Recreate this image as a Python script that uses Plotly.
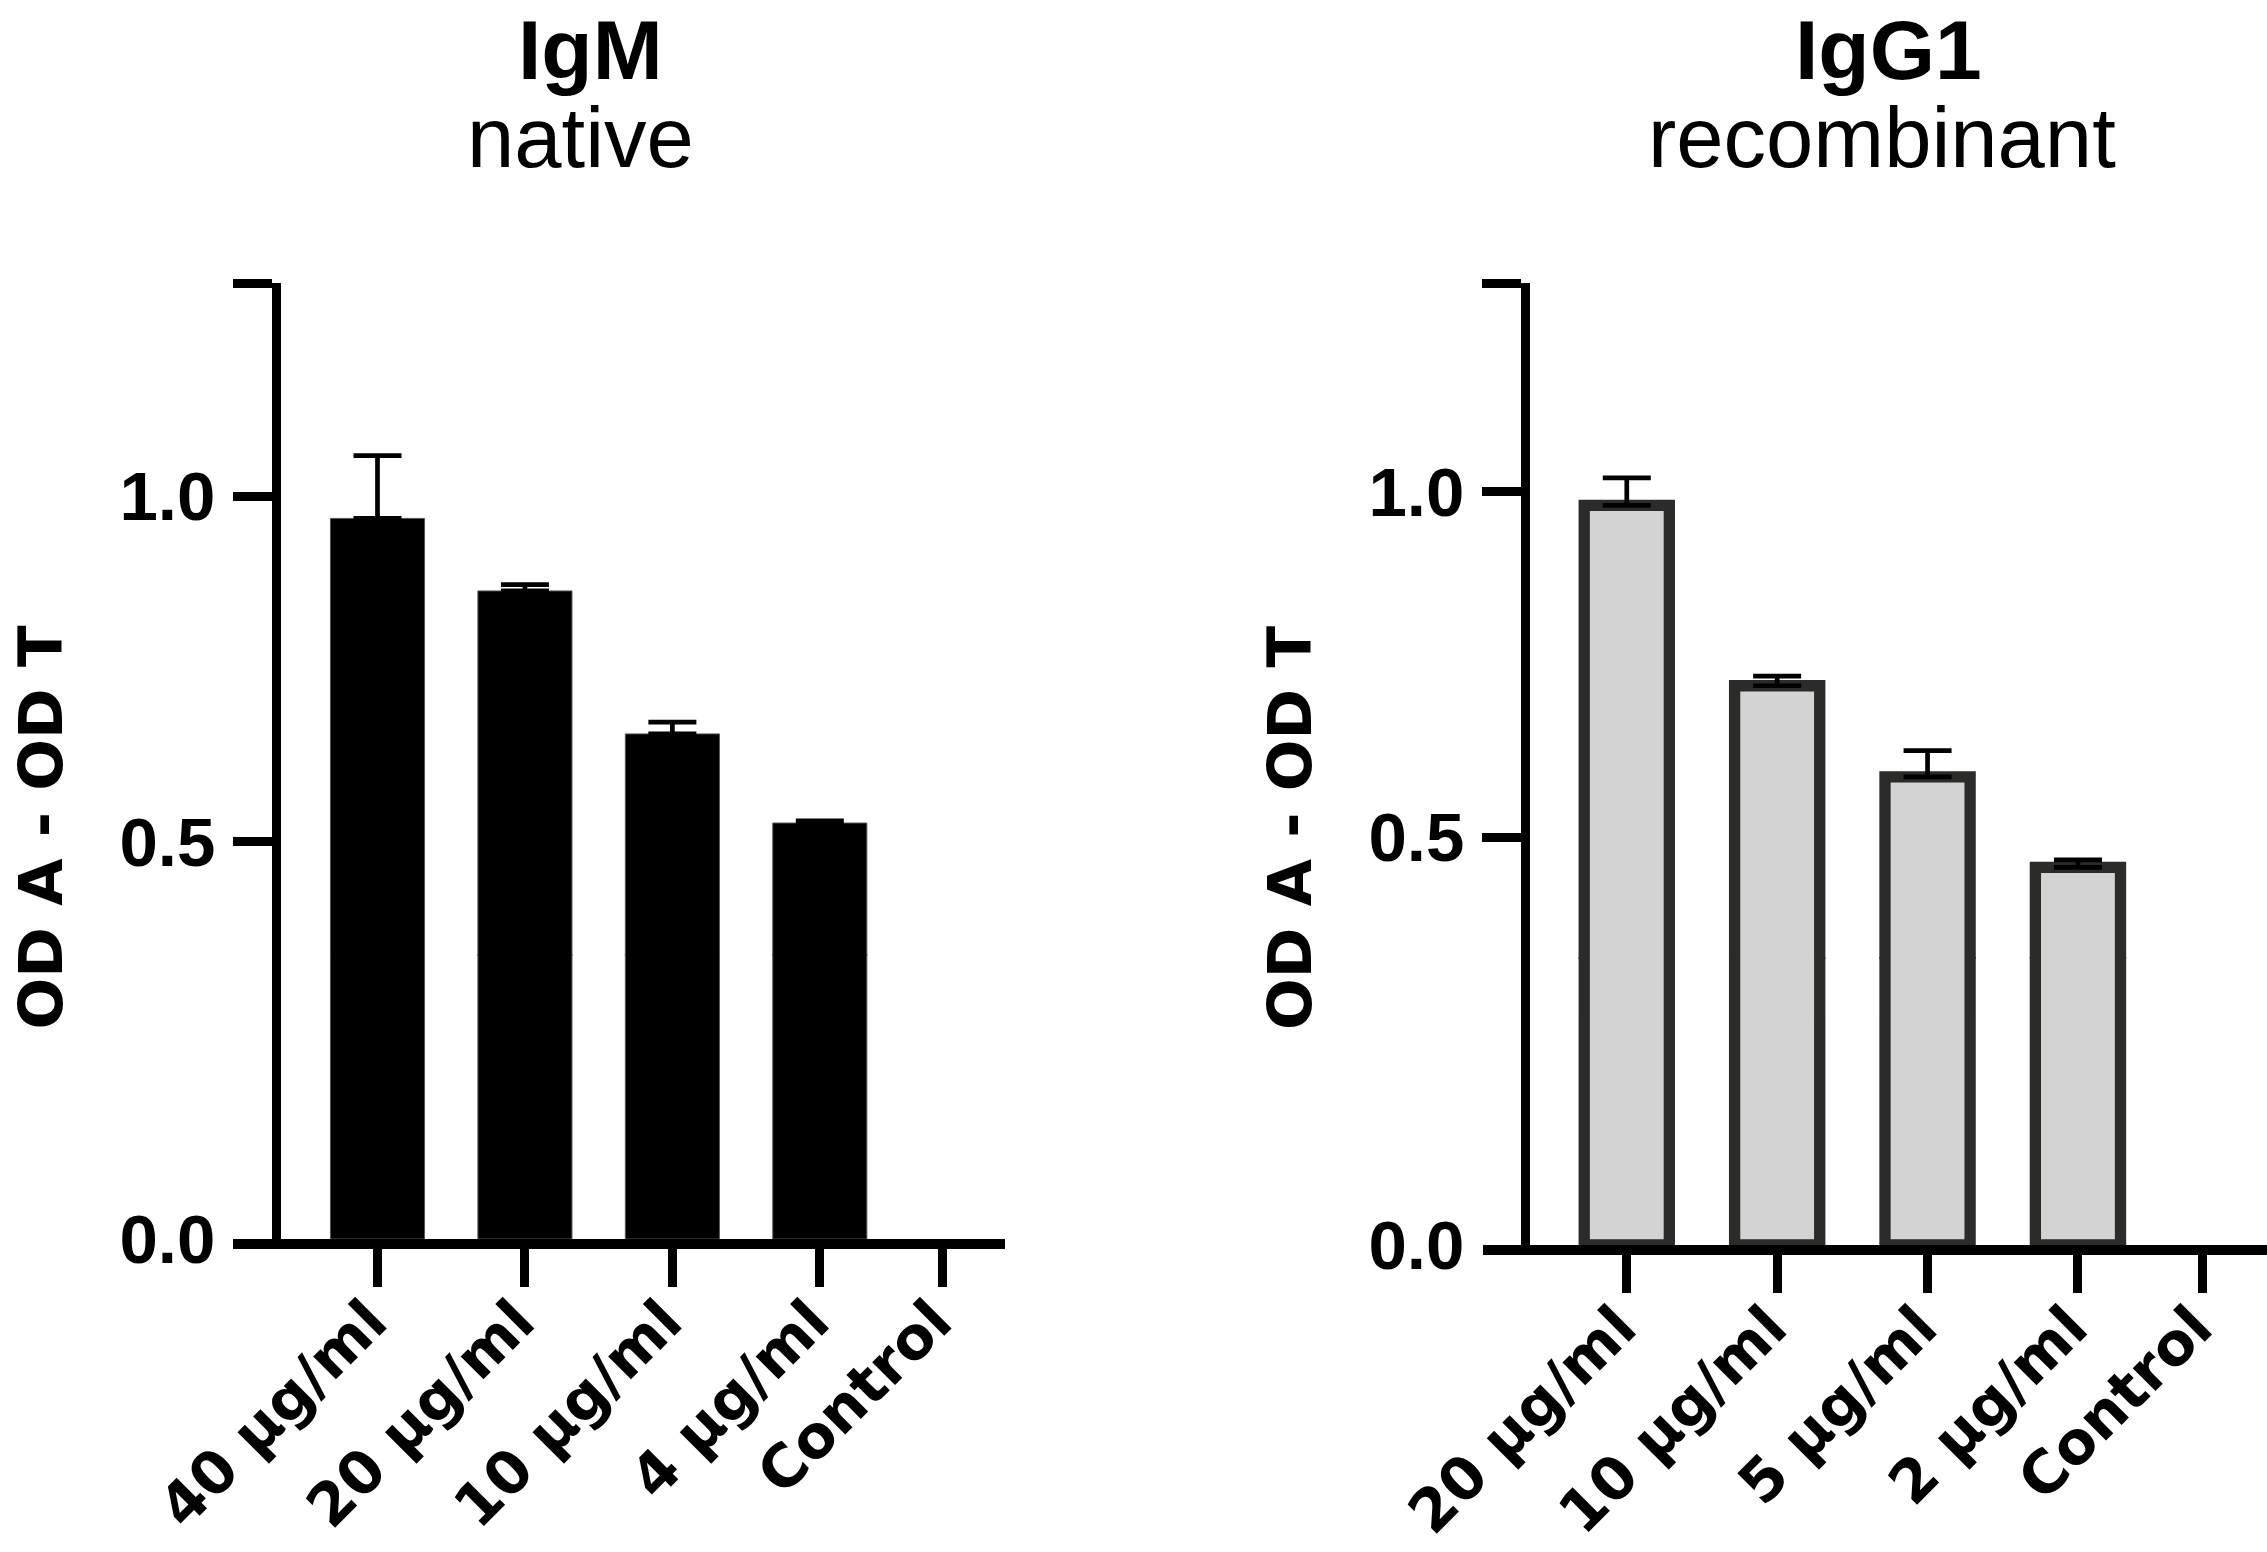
import plotly.graph_objects as go

# ---------------- data ----------------
categories_igm = ["40 µg/ml", "20 µg/ml", "10 µg/ml", "4 µg/ml", "Control"]
values_igm = [0.968, 0.863, 0.656, 0.527, None]
errors_igm = [0.091, 0.009, 0.017, 0.003, None]

categories_igg1 = ["20 µg/ml", "10 µg/ml", "5 µg/ml", "2 µg/ml", "Control"]
values_igg1 = [0.980, 0.719, 0.587, 0.456, None]
errors_igg1 = [0.040, 0.014, 0.038, 0.011, None]

y_ticks_upper = [0.5, 1.0]
y_tick_labels_upper = ["0.5", "1.0"]
y_ticks_lower = [0.0]
y_tick_labels_lower = ["0.0"]

titles = ["IgM", "IgG1"]
subtitles = ["native", "recombinant"]
y_title = "OD A - OD T"

# ---------------- layout constants ----------------
W, H = 2267, 1552
FONT = "Liberation Sans"
LABEL_FONT = "DejaVu Sans"
slot_positions = [0, 1, 2, 3, 3.83]   # category slots on the x axis (Control slot is narrower)


def px(x):
    return x / W


def py(y):
    return 1 - y / H


panels = [
    dict(xa="x", ya_low="y", ya_up="y2",
         x_dom=(233, 1005), x_range=(-0.980, 4.256),
         y_line=276.3, y_bottom=1239, y_break=956, y_top=283,
         break_val=0.3345, top_val=1.3088,
         cats=categories_igm, vals=values_igm, errs=errors_igm,
         fill="#000000", edge="#555555", edge_w=1, bar_w=0.638,
         title_x=590, sub_x=580, ytitle_x=2, ytitle_anchor="left"),
    dict(xa="x2", ya_low="y3", ya_up="y4",
         x_dom=(1482.7, 2267), x_range=(-0.958, 4.257),
         y_line=1525.3, y_bottom=1245, y_break=959, y_top=283,
         break_val=0.3235, top_val=1.302,
         cats=categories_igg1, vals=values_igg1, errs=errors_igg1,
         fill="#d3d3d3", edge="#2b2b29", edge_w=11.3, bar_w=0.566,
         title_x=1888, sub_x=1881.5, ytitle_x=1289, ytitle_anchor="center"),
]

fig = go.Figure()
layout = dict(
    width=W, height=H, autosize=False,
    margin=dict(l=0, r=0, t=0, b=0, pad=0),
    paper_bgcolor="white", plot_bgcolor="rgba(0,0,0,0)",
    showlegend=False, hovermode=False, barmode="overlay",
    font=dict(family=FONT, color="black"),
)
annotations = []

for i, p in enumerate(panels):
    xs = slot_positions
    for ya, with_err in ((p["ya_low"], False), (p["ya_up"], True)):
        fig.add_trace(go.Bar(
            x=xs, y=p["vals"], width=p["bar_w"],
            xaxis=p["xa"], yaxis=ya,
            marker=dict(color=p["fill"], line=dict(color=p["edge"], width=p["edge_w"])),
            error_y=dict(type="data", symmetric=False, array=p["errs"],
                         arrayminus=[0 if e is not None else None for e in p["errs"]],
                         color="black", thickness=4.7, width=24, visible=with_err),
            hoverinfo="skip",
        ))

    xkey = "xaxis" if p["xa"] == "x" else "xaxis" + p["xa"][1:]
    lowkey = "yaxis" if p["ya_low"] == "y" else "yaxis" + p["ya_low"][1:]
    upkey = "yaxis" + p["ya_up"][1:]

    layout[xkey] = dict(
        domain=[px(p["x_dom"][0]), px(p["x_dom"][1])], range=list(p["x_range"]),
        anchor=p["ya_low"], showline=True, linewidth=9.5, linecolor="black",
        ticks="outside", ticklen=38, tickwidth=9.3, tickcolor="black",
        tickvals=slot_positions, ticktext=p["cats"], tickangle=-45,
        ticklabelstandoff=-24, ticklabelshift=-8,
        tickfont=dict(family=LABEL_FONT, size=59, color="black", weight="bold"),
        showgrid=False, zeroline=False, fixedrange=True, automargin=False,
    )
    common_y = dict(
        anchor="free", position=px(p["y_line"]), showline=True, linewidth=9.3,
        linecolor="black", ticks="outside", ticklen=39, tickwidth=9.3,
        ticklabelstandoff=4,
        tickfont=dict(family=FONT, size=69, color="black", weight="bold"),
        showgrid=False, zeroline=False, fixedrange=True, automargin=False,
    )
    # lower segment overlaps the upper one by 2 px to hide the clipping seam
    overlap = 2
    low_scale = p["break_val"] / (p["y_bottom"] - p["y_break"])
    layout[lowkey] = dict(
        common_y, domain=[py(p["y_bottom"]), py(p["y_break"] - overlap)],
        range=[0, p["break_val"] + overlap * low_scale], tickvals=y_ticks_lower,
        ticktext=y_tick_labels_lower, tickcolor="rgba(0,0,0,0)",
    )
    layout[upkey] = dict(
        common_y, domain=[py(p["y_break"]), py(p["y_top"])],
        range=[p["break_val"], p["top_val"]],
        tickvals=y_ticks_upper + [p["top_val"] - 0.0003],
        ticktext=y_tick_labels_upper + [""],
        tickcolor="black",
    )

    annotations.append(dict(
        text=titles[i], x=px(p["title_x"]), y=py(1), xref="paper", yref="paper",
        xanchor="center", yanchor="top", showarrow=False,
        font=dict(family=FONT, size=84, color="black", weight="bold"),
    ))
    annotations.append(dict(
        text=subtitles[i], x=px(p["sub_x"]), y=py(137), xref="paper", yref="paper",
        xanchor="center", yanchor="middle", showarrow=False,
        font=dict(family=FONT, size=85, color="black"),
    ))
    annotations.append(dict(
        text=y_title, x=px(p["ytitle_x"]), y=py(828), xref="paper", yref="paper",
        xanchor=p["ytitle_anchor"], yanchor="middle", showarrow=False, textangle=-90,
        font=dict(family=LABEL_FONT, size=61, color="black", weight="bold"),
    ))

layout["annotations"] = annotations
fig.update_layout(**layout)
fig.write_html(
    "out.html",
    config={"displayModeBar": False},
    post_script="document.body.style.margin='0';document.body.style.overflow='hidden';",
)
